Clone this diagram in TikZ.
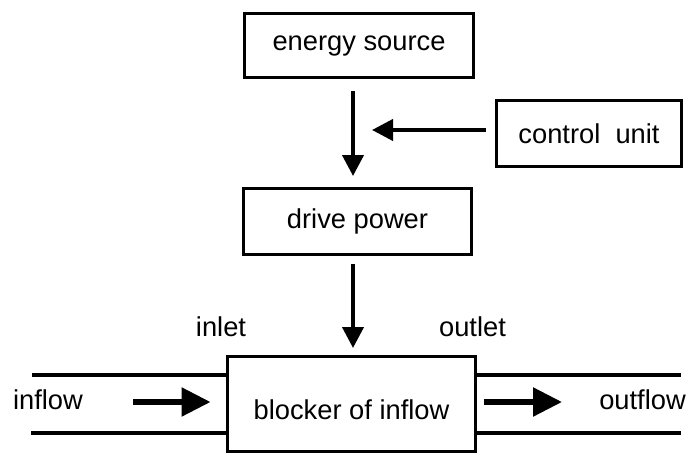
\documentclass[tikz,border=0pt]{standalone}
\usepackage{fontspec}
\setmainfont{Liberation Sans}
\usetikzlibrary{arrows.meta}
\begin{document}
\begin{tikzpicture}[x=1pt,y=-1pt,
  every node/.style={font=\fontsize{27.3}{32}\selectfont},
  box/.style={draw,line width=3.3pt,inner sep=0pt,outer sep=0pt},
  arr/.style={line width=4pt,-{Triangle[length=21pt,width=21pt]}},
  bigarr/.style={line width=5.5pt,-{Triangle[length=29pt,width=28pt]}},
  pipe/.style={line width=4pt}]
\useasboundingbox (0,0) rectangle (691,455);
\node[box,minimum width=229pt,minimum height=64pt] (es) at (359,45.5) {energy source};
\node[box,minimum width=185pt,minimum height=66pt] (cu) at (589,133.5) {control\ \ unit};
\node[box,minimum width=228pt,minimum height=66pt] (dp) at (357.5,221.5) {drive power};
\node[box,minimum width=248pt,minimum height=95pt,text depth=0pt,text height=30pt] (blk) at (351.5,404) {blocker of inflow};
\coordinate (ax1) at (353,91);
\coordinate (ax2) at (353,176);
\coordinate (cj) at (372,130);
\coordinate (ax3) at (353,264);
\coordinate (ax4) at (353,348);
\draw[arr] (ax1) -- (ax2);
\draw[arr] ([xshift=-11pt]cu.west |- cj) -- (cj);
\draw[arr] (ax3) -- (ax4);
\draw[pipe] (32,375) -- (blk.west |- 0,375);
\draw[pipe] (31,433) -- (blk.west |- 0,433);
\draw[pipe] (blk.east |- 0,375) -- (681,375);
\draw[pipe] (blk.east |- 0,433) -- (681,433);
\coordinate (in1) at (133,402);
\coordinate (out2) at (562,402);
\draw[bigarr] (in1) -- ([xshift=-17pt]blk.west |- in1);
\draw[bigarr] ([xshift=8pt]blk.east |- out2) -- (out2);
\node (inflow) at (48,400) {inflow};
\node (outflow) at (642.5,400) {outflow};
\node (inlet) at (221,327) {inlet};
\node (outlet) at (472.5,327) {outlet};
\end{tikzpicture}
\end{document}
